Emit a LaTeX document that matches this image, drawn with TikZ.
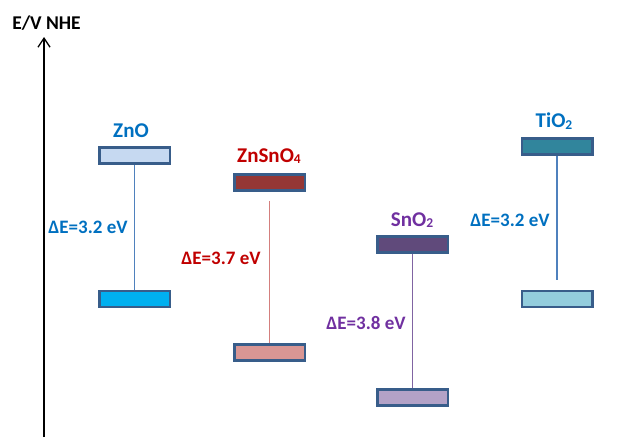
\documentclass[tikz,border=0pt]{standalone}
\usepackage{fontspec}
\setmainfont{Carlito}
\usetikzlibrary{arrows.meta}
\definecolor{bord}{HTML}{385D8A}
\definecolor{lblue}{HTML}{0070C0}
\definecolor{lred}{HTML}{C00000}
\definecolor{lpurp}{HTML}{7030A0}
\definecolor{ln1}{HTML}{4F81BD}
\definecolor{ln2}{HTML}{D47F7D}
\definecolor{ln3}{HTML}{8064A2}
\definecolor{f1}{HTML}{C6D9F1}
\definecolor{f2}{HTML}{00B0F0}
\definecolor{f3}{HTML}{953735}
\definecolor{f4}{HTML}{D99694}
\definecolor{f5}{HTML}{604A7B}
\definecolor{f6}{HTML}{B3A2C7}
\definecolor{f7}{HTML}{31859C}
\definecolor{f8}{HTML}{93CDDD}
\newcommand{\lowsub}[1]{\raisebox{-0.15ex}{\fontsize{13.5}{13.5}\selectfont\bfseries #1}}
\tikzset{
  band/.style={draw=bord, line width=2.5pt, minimum width=70.5pt, minimum height=16pt, inner sep=0pt},
  matlbl/.style={font=\fontsize{21}{21}\selectfont\bfseries, inner sep=0pt},
  gaplbl/.style={font=\fontsize{19}{19}\selectfont\bfseries, inner sep=0pt},
  gapline/.style={line width=1.2pt}
}
\begin{document}
\begin{tikzpicture}[x=1pt,y=-1pt]
\useasboundingbox (0,0) rectangle (636,439);
% axis
\coordinate (a0) at (44,437);
\coordinate (a1) at (44,37);
\draw[line width=1.3pt, -{Straight Barb[length=9pt,width=12pt,line width=1.3pt]}] (a0) -- (a1);
\node[font=\fontsize{19.5}{19.5}\selectfont\bfseries, inner sep=0pt] (axl) at (46.5,23) {E/V NHE};
% ZnO
\node[band, fill=f1] (zt) at (134.5,155.5) {};
\node[band, fill=f2] (zb) at (134.5,299) {};
\draw[gapline, ln1] (zt.south) -- (zb.north);
\node[matlbl, text=lblue] (zl) at (131,131) {ZnO};
\node[gaplbl, text=lblue] (ze) at (88,227) {ΔE=3.2 eV};
% ZnSnO4
\node[band, fill=f3] (st) at (269.5,182.5) {};
\node[band, fill=f4] (sb) at (269.5,352.5) {};
\draw[gapline, ln2, shorten <=9pt] (st.south) -- (sb.north);
\node[matlbl, text=lred] (sl) at (269,156) {ZnSnO\lowsub{4}};
\node[gaplbl, text=lred] (se) at (221,258) {ΔE=3.7 eV};
% SnO2
\node[band, fill=f5] (nt) at (412.5,244.5) {};
\node[band, fill=f6] (nb) at (412.5,397.5) {};
\draw[gapline, ln3] (nt.south) -- (nb.north);
\node[matlbl, text=lpurp] (nl) at (412,220) {SnO\lowsub{2}};
\node[gaplbl, text=lpurp] (ne) at (366,323) {ΔE=3.8 eV};
% TiO2
\node[band, fill=f7] (tt) at (557,146.5) {};
\node[band, fill=f8] (tb) at (557,299) {};
\draw[gapline, ln1, shorten >=10pt] (tt.south) -- (tb.north);
\node[matlbl, text=lblue] (tl) at (554,121) {TiO\lowsub{2}};
\node[gaplbl, text=lblue] (te) at (510,220) {ΔE=3.2 eV};
\end{tikzpicture}
\end{document}
